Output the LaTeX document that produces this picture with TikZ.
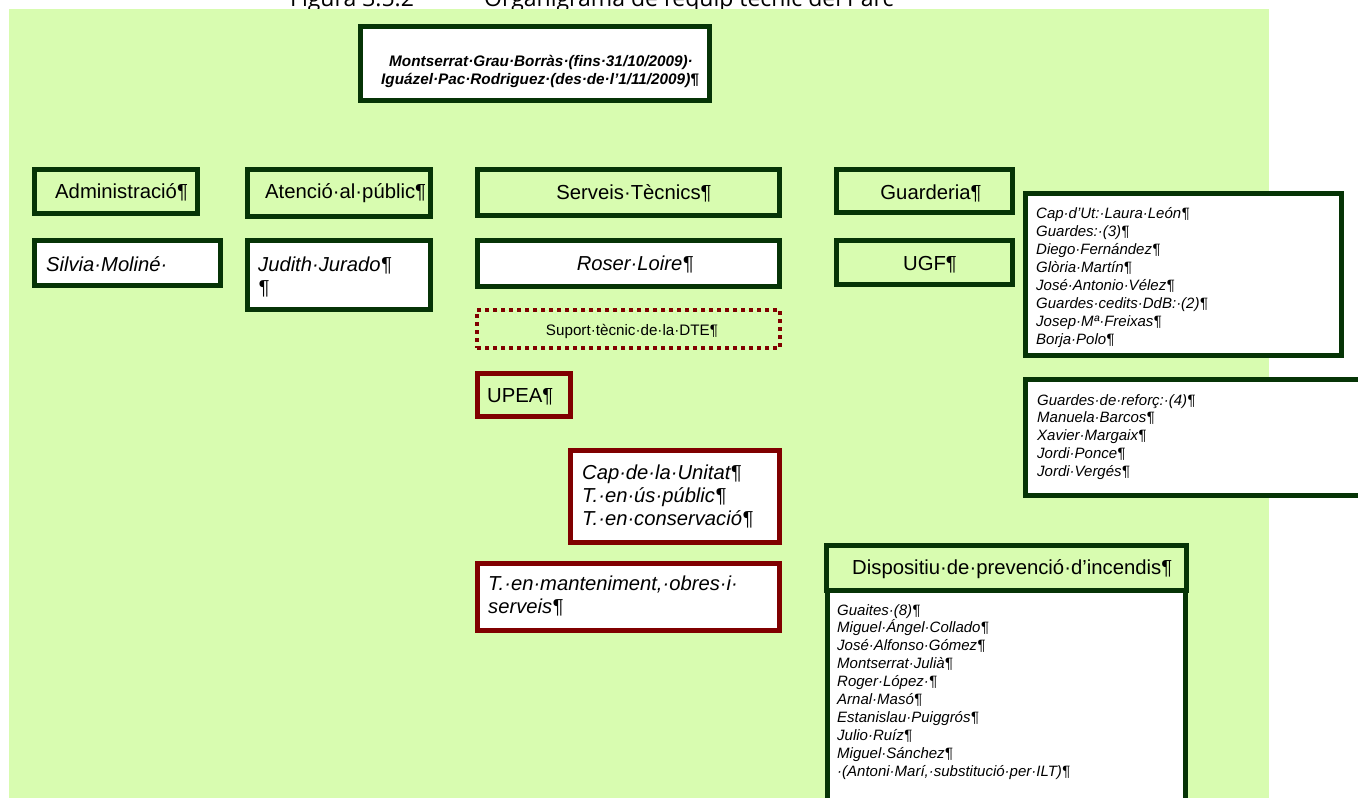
\documentclass[tikz,border=0pt]{standalone}
\usepackage{fontspec}
\setmainfont{Liberation Sans}
\newfontfamily\titlefont{Open Sans}
\definecolor{bggreen}{RGB}{216,252,176}
\definecolor{dkgreen}{RGB}{6,52,6}
\definecolor{dkred}{RGB}{128,0,0}
\newcommand\obox[6]{%
  \pgfmathsetmacro\cx{(#3+#5)/2}\pgfmathsetmacro\cy{(#4+#6)/2}%
  \pgfmathsetmacro\bw{#5-#3-5}\pgfmathsetmacro\bh{#6-#4-5}%
  \node[#1, minimum width=\bw pt, minimum height=\bh pt] (#2) at (\cx,\cy) {};}
\begin{document}
\begin{tikzpicture}[x=1pt,y=-1pt,
  gbox/.style={draw=dkgreen, line width=5pt, fill=bggreen, inner sep=0pt},
  wbox/.style={draw=dkgreen, line width=5pt, fill=white, inner sep=0pt},
  rbox/.style={draw=dkred, line width=5pt, fill=white, inner sep=0pt},
  rgbox/.style={draw=dkred, line width=5pt, fill=bggreen, inner sep=0pt},
  dotbox/.style={draw=dkred, line width=4pt, dash pattern=on 4pt off 4pt, inner sep=0pt},
  hdtxt/.style={font=\fontsize{20.3}{24}\selectfont, inner sep=0pt},
  nmtxt/.style={font=\fontsize{20.2}{24}\selectfont\itshape, inner sep=0pt},
  lsttxt/.style={font=\fontsize{15}{18}\selectfont\itshape, inner sep=0pt},
  ttltxt/.style={font=\titlefont\fontsize{23}{27}\selectfont, inner sep=0pt}]
\useasboundingbox (0,0) rectangle (1358,798);
\clip (0,0) rectangle (1358,798);
\fill[white] (0,0) rectangle (1358,798);
% cut title (its lower part only shows above the green area)
\node[ttltxt, anchor=base west] (fig) at (290,6) {Figura 3.5.2};
\node[ttltxt, anchor=base west] (figt) at (484,6) {Organigrama de l’equip tècnic del Parc};
\fill[bggreen] (9,9) rectangle (1269,798);
% top box
\obox{wbox}{top}{358}{24}{712}{103}
\node[font=\fontsize{15.3}{18}\selectfont\bfseries\itshape, inner sep=0pt, anchor=base] (toptxt) at (541,66)
  {Montserrat·Grau·Borràs·(fins·31/10/2009)·};
\node[font=\fontsize{15.3}{18}\selectfont\bfseries\itshape, inner sep=0pt, anchor=base] (toptxt2) at (540,84)
  {Iguázel·Pac·Rodriguez·(des·de·l’1/11/2009)¶};
% column 1
\obox{gbox}{adm}{32}{167}{200}{216}
\node[hdtxt, anchor=base west] (admt) at (55,198) {Administració¶};
\obox{wbox}{silv}{32}{238}{223}{288}
\node[nmtxt, anchor=base west] (silvt) at (46,271) {Silvia·Moliné·};
% column 2
\obox{gbox}{ate}{245}{167}{433}{219}
\node[hdtxt, anchor=base west] (atet) at (265,198) {Atenció·al·públic¶};
\obox{wbox}{jud}{245}{238}{433}{312}
\node[nmtxt, anchor=base west] (judt) at (258,271) {Judith·Jurado¶};
\node[nmtxt, anchor=base west] (judt2) at (258,294) {¶};
% column 3
\obox{gbox}{ser}{475}{167}{782}{218}
\node[hdtxt, anchor=base] (sert) at (634,199) {Serveis·Tècnics¶};
\obox{wbox}{ros}{475}{238}{782}{289}
\node[nmtxt, anchor=base] (rost) at (635,270) {Roser·Loire¶};
\node[dotbox, minimum width=303pt, minimum height=38pt] (sup) at (628.5,329) {};
\node[font=\fontsize{15.2}{18}\selectfont, inner sep=0pt, anchor=base] (supt) at (632,335) {Suport·tècnic·de·la·DTE¶};
\obox{rgbox}{upea}{475}{371}{573}{419}
\node[hdtxt, anchor=base west] (upeat) at (487,402) {UPEA¶};
\obox{rbox}{cap}{568}{448}{782}{545}
\node[nmtxt, anchor=base west] (capt) at (582,479) {Cap·de·la·Unitat¶};
\node[nmtxt, anchor=base west] (capt2) at (582,502) {T.·en·ús·públic¶};
\node[nmtxt, anchor=base west] (capt3) at (582,525) {T.·en·conservació¶};
\obox{rbox}{man}{475}{561}{782}{633}
\node[nmtxt, anchor=base west] (mant) at (488,590) {T.·en·manteniment,·obres·i·};
\node[nmtxt, anchor=base west] (mant2) at (488,613) {serveis¶};
% column 4
\obox{gbox}{gua}{834}{167}{1015}{215}
\node[hdtxt, anchor=base] (guat) at (931,199) {Guarderia¶};
\obox{gbox}{ugf}{834}{238}{1015}{287}
\node[hdtxt, anchor=base] (ugft) at (930,270) {UGF¶};
\obox{wbox}{l1}{1023}{191}{1344}{358}
\foreach \t [count=\i from 0] in {Cap·d’Ut:·Laura·León¶,Guardes:·(3)¶,Diego·Fernández¶,Glòria·Martín¶,José·Antonio·Vélez¶,Guardes·cedits·DdB:·(2)¶,Josep·Mª·Freixas¶,Borja·Polo¶}
  \node[lsttxt, anchor=base west] (l1t\i) at (1036,218+18*\i) {\t};
\obox{wbox}{l2}{1023}{377}{1400}{498}
\foreach \t [count=\i from 0] in {Guardes·de·reforç:·(4)¶,Manuela·Barcos¶,Xavier·Margaix¶,Jordi·Ponce¶,Jordi·Vergés¶}
  \node[lsttxt, anchor=base west] (l2t\i) at (1037,405+17.8*\i) {\t};
\obox{wbox}{l3}{825}{588}{1188}{840}
\obox{gbox}{dis}{824}{543}{1189}{593}
\node[hdtxt, anchor=base west] (dist) at (852,574) {Dispositiu·de·prevenció·d’incendis¶};
\foreach \t [count=\i from 0] in {Guaites·(8)¶,Miguel·Ángel·Collado¶,José·Alfonso·Gómez¶,Montserrat·Julià¶,Roger·López·¶,Arnal·Masó¶,Estanislau·Puiggrós¶,Julio·Ruíz¶,Miguel·Sánchez¶,{·(Antoni·Marí,·substitució·per·ILT)¶}}
  \node[lsttxt, anchor=base west] (l3t\i) at (837,615+17.9*\i) {\t};
\end{tikzpicture}
\end{document}
